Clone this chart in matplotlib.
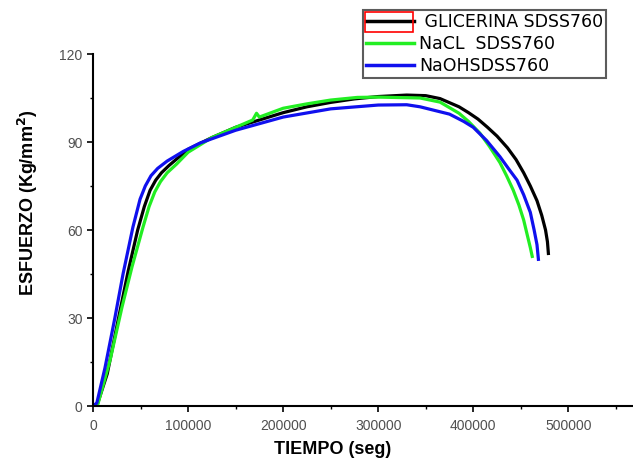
import matplotlib
matplotlib.use('Agg')
from matplotlib import pyplot as plt
from matplotlib.ticker import MultipleLocator
from matplotlib.patches import Rectangle

# data (tiempo in seg, esfuerzo in Kg/mm2)
glic_t = [0, 5000, 15000, 25000, 37000, 47000, 54000, 60000, 66000, 72000,
          80000, 100000, 125000, 150000, 175000, 200000, 225000, 250000,
          275000, 300000, 330000, 350000, 365000, 385000, 395000, 405000,
          415000, 425000, 436000, 445000, 453000, 460000, 467000, 472000,
          476000, 478000, 479000]
glic_s = [0, 1, 11, 27, 46, 60, 68, 73.5, 77, 79.5,
          82, 87.5, 91.5, 95, 97.5, 100, 102, 103.5,
          104.7, 105.5, 106, 105.8, 104.8, 102, 100, 97.8,
          95, 92, 88, 84, 79.5, 75, 70, 65,
          60, 56, 52]

nacl_t = [0, 5000, 18000, 30500, 41000, 52600, 59000, 65000, 71000, 78000,
          88000, 100000, 125000, 150000, 168000, 172000, 175000, 200000,
          225000, 250000, 278000, 300000, 344000, 365000, 385000, 395000,
          407000, 417000, 428000, 435000, 442000, 448000, 453000, 457000,
          460000, 462000]
nacl_s = [0, 0.5, 15.7, 33.7, 47.4, 61, 68, 73, 76.5, 79.5,
          82.5, 86.5, 91.5, 95, 97.5, 99.8, 98.5, 101.5,
          103, 104.3, 105.2, 105.3, 105, 103.6, 99.8, 97,
          93, 88.5, 83, 78.5, 73.6, 68.5, 63.4, 58,
          54, 51]

naoh_t = [0, 4000, 12600, 23000, 31600, 42000, 49500, 55000, 61000, 68000,
          78000, 95000, 113000, 150000, 200000, 250000, 300000, 330000,
          344000, 375000, 390000, 400000, 414000, 428000, 438000, 446000,
          453000, 460000, 464000, 467000, 468500]
naoh_s = [0, 1, 13, 30, 45, 61, 70.5, 75, 78.5, 81,
          83.5, 86.8, 89.7, 94, 98.5, 101.3, 102.6, 102.7,
          102, 99.5, 97, 95, 90.5, 85, 80.5, 77,
          72, 66, 60, 55, 50]

labels = [' GLICERINA SDSS760', 'NaCL  SDSS760', 'NaOHSDSS760']

plt.rcParams['font.family'] = ['Liberation Sans', 'DejaVu Sans']

fig = plt.figure(figsize=(6.33, 4.65), dpi=100)
ax = fig.add_axes((93/633, 59/465, 1 - 93/633, 352/465))

ax.plot(glic_t, glic_s, color='black', lw=2.3, label=labels[0])
ax.plot(nacl_t, nacl_s, color='#22ee22', lw=2.3, label=labels[1])
ax.plot(naoh_t, naoh_s, color='#1010ee', lw=2.3, label=labels[2])

ax.set_xlim(0, 568000)
ax.set_ylim(0, 120)
ax.xaxis.set_major_locator(MultipleLocator(100000))
ax.xaxis.set_minor_locator(MultipleLocator(50000))
ax.yaxis.set_major_locator(MultipleLocator(30))
ax.yaxis.set_minor_locator(MultipleLocator(15))
ax.tick_params(which='major', direction='out', length=4, width=1.2,
               labelsize=10, labelcolor='#505050')
ax.tick_params(axis='x', which='major', pad=5)
ax.tick_params(which='minor', direction='out', length=2, width=1)
for side in ['top', 'right']:
    ax.spines[side].set_visible(False)
for side in ['left', 'bottom']:
    ax.spines[side].set_linewidth(1.5)

ax.set_xlabel('TIEMPO (seg)', fontsize=13, fontweight='bold')
ax.xaxis.set_label_coords(0.443, -0.1)
ax.set_ylabel('ESFUERZO (Kg/mm$^\\mathbf{2}$)', fontsize=13, fontweight='bold')
ax.yaxis.set_label_coords(-0.098, 0.577)

leg = fig.legend(loc='upper left', bbox_to_anchor=(363/633, 1 - 10/465),
                 prop={'family': 'DejaVu Sans', 'size': 12.5},
                 frameon=True, fancybox=False, borderpad=0.15,
                 handlelength=2.8, handletextpad=0.3, labelspacing=0.25,
                 borderaxespad=0)
leg.get_frame().set_edgecolor('#333333')
leg.get_frame().set_linewidth(1.5)
for line in leg.get_lines():
    line.set_linewidth(2.5)

# red selection box around first legend sample
fig.patches.append(Rectangle((365/633, 1 - 32/465), 48/633, 20/465,
                             transform=fig.transFigure, fill=False,
                             edgecolor='red', lw=1.2, zorder=10))

fig.savefig('out.png', dpi=100)
